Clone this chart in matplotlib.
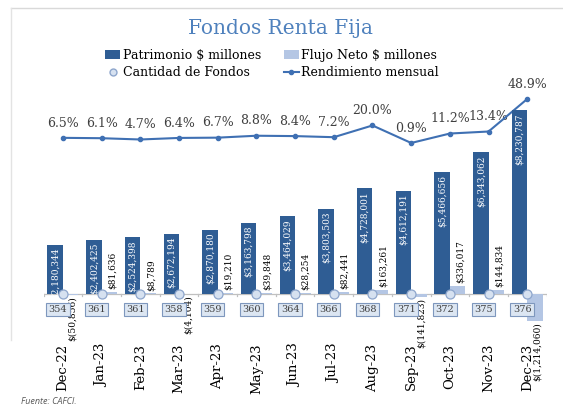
import matplotlib
matplotlib.use("Agg")
import matplotlib.pyplot as plt
import numpy as np
from matplotlib.patches import Patch
from matplotlib.lines import Line2D

months = ["Dec-22", "Jan-23", "Feb-23", "Mar-23", "Apr-23", "May-23", "Jun-23",
          "Jul-23", "Aug-23", "Sep-23", "Oct-23", "Nov-23", "Dec-23"]
patrimonio = [2180344, 2402425, 2524398, 2672194, 2870180, 3163798, 3464029,
              3803503, 4728001, 4612191, 5466656, 6343062, 8230787]
flujo = [-50856, 81636, 8789, -4104, 19210, 39848, 28254,
         82441, 163261, -141823, 336017, 144834, -1214060]
cantidad = [354, 361, 361, 358, 359, 360, 364, 366, 368, 371, 372, 375, 376]
rendimiento = [6.5, 6.1, 4.7, 6.4, 6.7, 8.8, 8.4, 7.2, 20.0, 0.9, 11.2, 13.4, 48.9]

SERIF = ["DejaVu Serif"]
plt.rcParams["font.family"] = SERIF

C_PAT = "#2f5d94"
C_FLU = "#b4c6e4"
C_LINE = "#3f70b3"
C_TITLE = "#4f81bd"

W, H = 563, 409
fig = plt.figure(figsize=(W / 100, H / 100), dpi=100)

def fx(px):
    return px / W

def fy(py):
    return (H - py) / H

# frame lines
fig.add_artist(Line2D([fx(11), 1.0], [fy(8), fy(8)], color="#d9d9d9", lw=1.0))
fig.add_artist(Line2D([fx(11), fx(11)], [fy(8), fy(340)], color="#e3e3e3", lw=1.0))

ax_left, ax_right = 43.6, 546.6
ax_top, ax_bot = 85, 338
ax = fig.add_axes([fx(ax_left), fy(ax_bot), fx(ax_right - ax_left), (ax_bot - ax_top) / H])
ax2 = ax.twinx()

base = 293.5
scale = 22.25  # px per million
ax.set_ylim(-(ax_bot - base) / scale * 1e6, (base - ax_top) / scale * 1e6)
ax.set_xlim(-0.5, 12.5)
y0px, kpx = 143.8, 0.917
ax2.set_ylim((y0px - ax_bot) / kpx, (y0px - ax_top) / kpx)

x = np.arange(len(months))
bw = 0.4
ax.bar(x - bw / 2, patrimonio, width=bw, color=C_PAT, zorder=3)
ax.bar(x + bw / 2, flujo, width=bw, color=C_FLU, zorder=3)

# baseline with small ticks
ax.plot([-0.5, 12.5], [0, 0], color="#c0c0c0", lw=0.9, zorder=2)
for b in np.arange(-0.5, 13.0, 1.0):
    ax.plot([b, b], [0, -0.12e6], color="#c0c0c0", lw=0.9, zorder=2)

# circles for Cantidad de Fondos
ax.scatter(x, np.zeros(len(x)), s=42, facecolor="#d6e1f0", edgecolor="#8ea6cc",
           linewidth=0.9, zorder=5)

# value labels
lab_fs = 6.5
for i, v in enumerate(patrimonio):
    ax.annotate(f"${v:,}", (x[i] - bw / 2, v), xytext=(0, -2), textcoords="offset points",
                rotation=90, ha="center", va="top", color="white", fontsize=lab_fs, zorder=4)
for i, v in enumerate(flujo):
    if v >= 0:
        ax.annotate(f"${v:,}", (x[i] + bw / 2 + 0.07, v), xytext=(0, 2), textcoords="offset points",
                    rotation=90, ha="center", va="bottom", color="black", fontsize=lab_fs, zorder=6)
    else:
        ax.annotate(f"$({abs(v):,})", (x[i] + bw / 2 + 0.05, v), xytext=(0, -1), textcoords="offset points",
                    rotation=90, ha="center", va="top", color="black", fontsize=lab_fs, zorder=6)

for i, c in enumerate(cantidad):
    ax.text(x[i] - 0.13, -(309.5 - base) / scale * 1e6, str(c), ha="center", va="center",
            fontsize=7, color="#404040", zorder=6,
            bbox=dict(boxstyle="square,pad=0.25", facecolor="#dce6f2", edgecolor="#7e97bd", lw=0.8))

# line
ax2.plot(x, rendimiento, color=C_LINE, lw=1.5, marker="o", ms=3, zorder=4)
for i, r in enumerate(rendimiento):
    ax2.annotate(f"{r:.1f}%", (x[i], r), xytext=(0, 6), textcoords="offset points",
                 ha="center", va="bottom", fontsize=9, color="#404040")

for a in (ax, ax2):
    for s in a.spines.values():
        s.set_visible(False)
    a.set_yticks([])
ax.set_xticks(x)
ax.set_xticklabels(months, rotation=90, fontsize=9.5, va="top")
ax.tick_params(axis="x", length=0, pad=4)
ax.set_zorder(ax2.get_zorder() + 1)
ax.patch.set_visible(False)

fig.text(fx(281), fy(28), "Fondos Renta Fija", ha="center", va="center",
         fontsize=14.5, color=C_TITLE)

handles = [Patch(facecolor=C_PAT, edgecolor="none"),
           Line2D([], [], marker="o", ls="none", ms=5, mfc="#d6e1f0", mec="#8ea6cc"),
           Patch(facecolor=C_FLU, edgecolor="none"),
           Line2D([], [], color=C_LINE, lw=1.5, marker="o", ms=3)]
labels = ["Patrimonio $ millones", "Cantidad de Fondos",
          "Flujo Neto $ millones", "Rendimiento mensual"]
fig.legend(handles, labels, ncol=2, loc="center", bbox_to_anchor=(fx(272), fy(64)),
           frameon=False, fontsize=9, handlelength=1.2, handletextpad=0.2,
           columnspacing=1.8, labelspacing=0.3, borderpad=0)

fig.text(fx(21), fy(402), "Fuente: CAFCI.", fontsize=6.5, style="italic",
         color="#595959", family=["Open Sans", "DejaVu Sans"], ha="left", va="center")

fig.savefig("out.png", dpi=100)
